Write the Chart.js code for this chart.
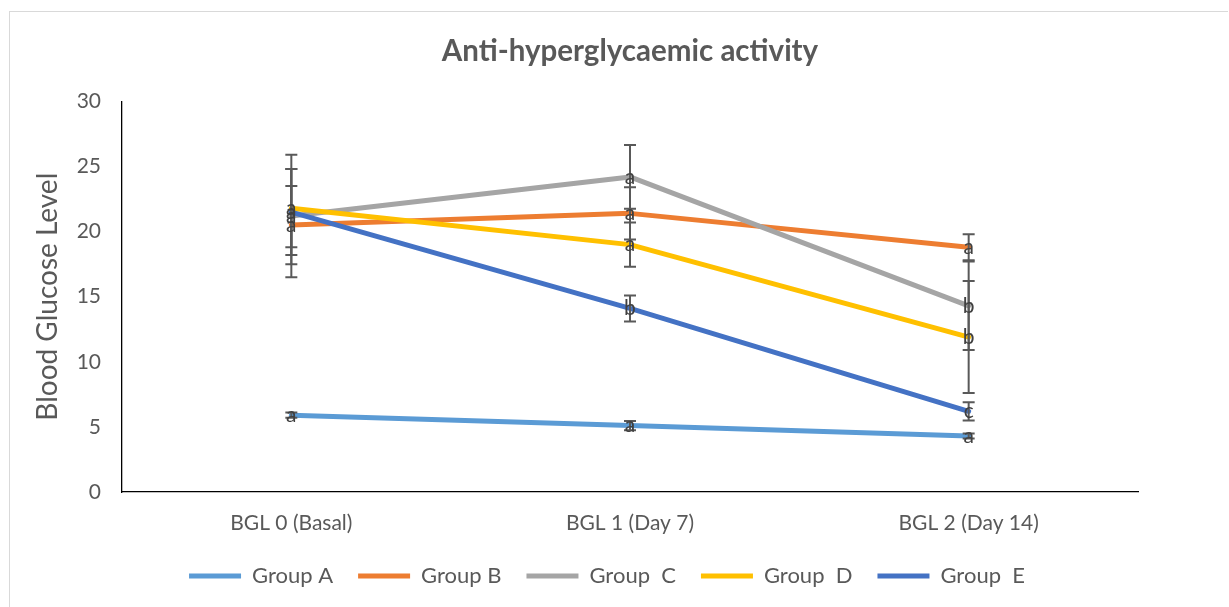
<!DOCTYPE html>
<html>
<head>
<meta charset="utf-8">
<script src="https://cdn.jsdelivr.net/npm/chart.js@4.4.1/dist/chart.umd.min.js"></script>
<style>
  html, body { margin: 0; padding: 0; background: #fff; overflow: hidden; }
  #wrap { position: relative; width: 1229px; height: 607px; }
  #frame { position: absolute; left: 9px; top: 11px; width: 1219px; height: 620px;
           border: 1px solid #d9d9d9; border-right: none; box-sizing: border-box; }
  #chart { position: absolute; left: 0; top: 0; }
</style>
</head>
<body>
<div id="wrap">
  <div id="frame"></div>
  <canvas id="chart" width="1229" height="607"></canvas>
</div>
<script>
// categories and series
const categories = ["BGL 0 (Basal)", "BGL 1 (Day 7)", "BGL 2 (Day 14)"];
const groupNames = ["Group A", "Group B", "Group  C", "Group  D", "Group  E"];

const groupA = [5.9, 5.1, 4.3];
const groupB = [20.5, 21.4, 18.8];
const groupC = [21.2, 24.2, 14.3];
const groupD = [21.8, 19.0, 11.9];
const groupE = [21.5, 14.1, 6.2];

// error bar (+/-) sizes
const errA = [0.2, 0.35, 0.2];
const errB = [3.0, 2.0, 1.0];
const errC = [4.7, 2.45, 3.4];
const errD = [3.0, 1.7, 4.3];
const errE = [3.3, 1.0, 0.7];

// significance letters
const letterA = ["a", "a", "a"];
const letterB = ["a", "a", "a"];
const letterC = ["a", "a", "b"];
const letterD = ["a", "a", "b"];
const letterE = ["a", "b", "c"];

const yTicks = [0, 5, 10, 15, 20, 25, 30];

var colors = ["#5b9bd5", "#ed7d31", "#a5a5a5", "#ffc000", "#4472c4"];
var allData = [groupA, groupB, groupC, groupD, groupE];
var allErr = [errA, errB, errC, errD, errE];
var allLetters = [letterA, letterB, letterC, letterD, letterE];

const FONT = "Lato, 'Open Sans', sans-serif";
const GRAY = "#595959";

var datasets = [];
for (let i = 0; i < allData.length; i++) {
    datasets.push({
        label: groupNames[i],
        data: allData[i],
        borderColor: colors[i],
        backgroundColor: colors[i],
        borderWidth: 5,
        borderCapStyle: "round",
        borderJoinStyle: "round",
        pointRadius: 0,
        pointHoverRadius: 0,
        tension: 0,
        order: allData.length - 1 - i,
        errors: allErr[i],
        letters: allLetters[i],
    });
}

// error bars then letters on top of the lines
const errorBars = {
    id: "errorBars",
    afterDatasetsDraw(chart) {
        const ctx = chart.ctx;
        const y = chart.scales.y;
        ctx.save();
        ctx.strokeStyle = GRAY;
        ctx.lineWidth = 2;
        chart.data.datasets.forEach((ds, i) => {
            const meta = chart.getDatasetMeta(i);
            meta.data.forEach((pt, j) => {
                const v = ds.data[j], e = ds.errors[j];
                const top = y.getPixelForValue(v + e);
                const bot = y.getPixelForValue(v - e);
                ctx.beginPath();
                ctx.moveTo(pt.x, top); ctx.lineTo(pt.x, bot);
                ctx.moveTo(pt.x - 6, top); ctx.lineTo(pt.x + 6, top);
                ctx.moveTo(pt.x - 6, bot); ctx.lineTo(pt.x + 6, bot);
                ctx.stroke();
            });
        });
        ctx.fillStyle = "#404040";
        ctx.font = "21px " + FONT;
        ctx.textAlign = "center";
        ctx.textBaseline = "middle";
        chart.data.datasets.forEach((ds, i) => {
            const meta = chart.getDatasetMeta(i);
            meta.data.forEach((pt, j) => {
                ctx.fillText(ds.letters[j], pt.x, pt.y);
            });
        });
        ctx.restore();
    }
};

new Chart(document.getElementById("chart"), {
    type: "line",
    data: { labels: categories, datasets: datasets },
    plugins: [errorBars],
    options: {
        responsive: false,
        animation: false,
        layout: { padding: { left: 20, right: 35, top: 0, bottom: 10 } },
        plugins: {
            tooltip: { enabled: false },
            title: {
                display: true,
                fullSize: false,
                text: "Anti-hyperglycaemic activity",
                color: GRAY,
                font: { family: FONT, size: 29.5, weight: "bold" },
                padding: { top: 34, bottom: 32 },
            },
            legend: {
                position: "bottom",
                labels: {
                    usePointStyle: true,
                    pointStyle: "line",
                    pointStyleWidth: 52,
                    color: GRAY,
                    padding: 25,
                    font: { family: FONT, size: 22 },
                    sort: (a, b) => a.datasetIndex - b.datasetIndex,
                },
            },
        },
        scales: {
            x: {
                offset: true,
                grid: { display: false, drawTicks: false },
                border: { display: true, color: "#000", width: 1.3 },
                ticks: { color: GRAY, padding: 19, font: { family: FONT, size: 21 } },
                afterFit: (s) => { s.height = 48; },
            },
            y: {
                min: 0,
                max: 30,
                afterBuildTicks: (s) => { s.ticks = yTicks.map(v => ({ value: v })); },
                grid: { display: false, drawTicks: false },
                border: { display: true, color: "#000", width: 1.3 },
                ticks: { color: GRAY, padding: 21, font: { family: FONT, size: 21 } },
                title: {
                    display: true,
                    text: "Blood Glucose Level",
                    color: GRAY,
                    font: { family: FONT, size: 28 },
                    padding: { top: 11, bottom: 0 },
                },
                afterFit: (s) => { s.width = 102; },
            },
            // empty right-hand space so the chart area ends where the original does
            y2: {
                position: "right",
                grid: { display: false, drawTicks: false },
                border: { display: false },
                ticks: { display: false },
                afterFit: (s) => { s.width = 56; },
            },
        },
    },
});
</script>
</body>
</html>
